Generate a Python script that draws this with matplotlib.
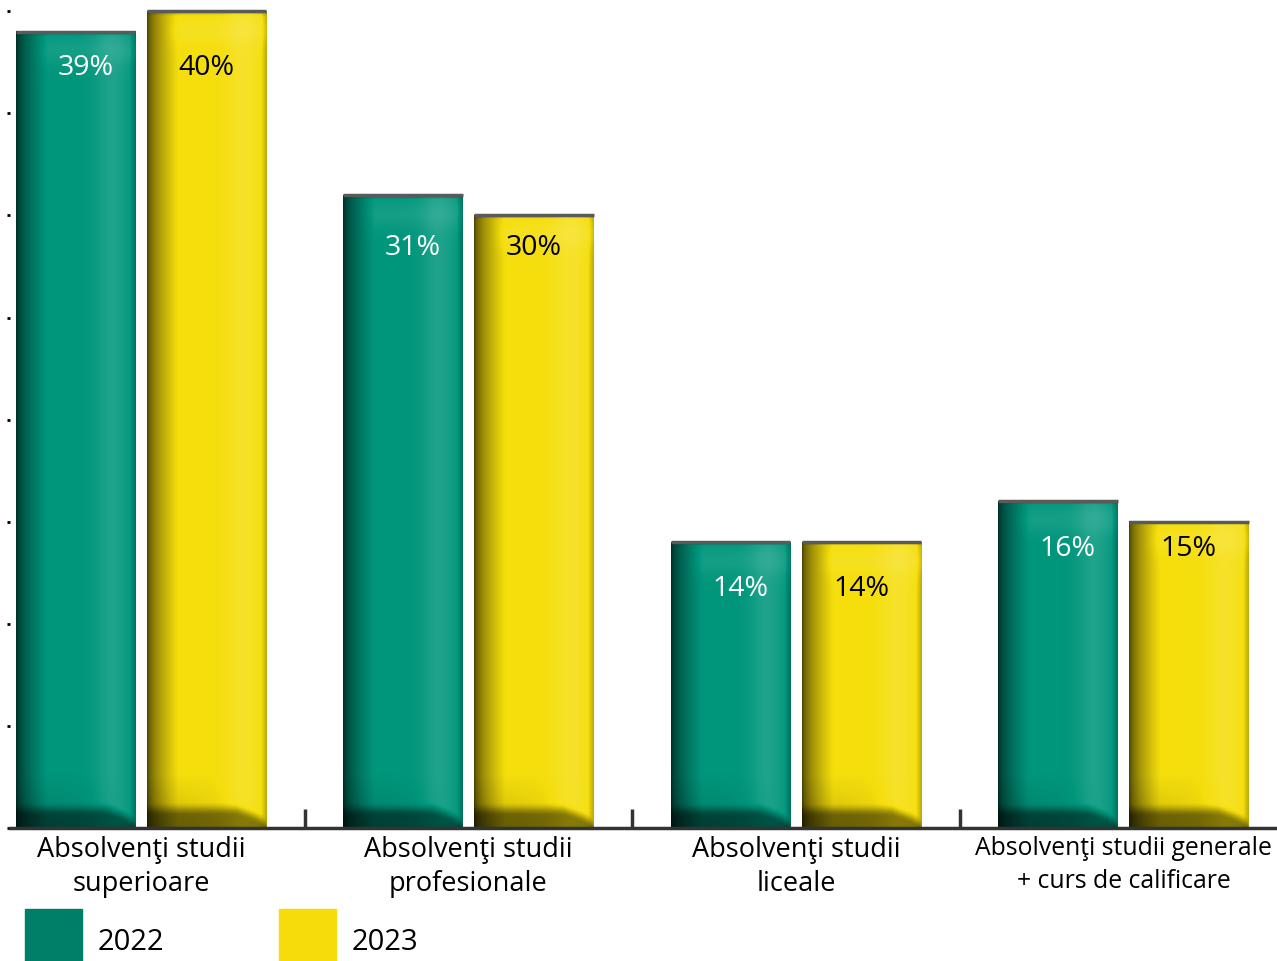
import numpy as np
import matplotlib
matplotlib.use("Agg")
from matplotlib import pyplot as plt
from matplotlib.patches import Rectangle

categories = ["Absolvenţi studii\nsuperioare", "Absolvenţi studii\nprofesionale",
              "Absolvenţi studii\nliceale", "Absolvenţi studii generale\n+ curs de calificare"]
years = ["2022", "2023"]
vals_2022 = [39, 31, 14, 16]
vals_2023 = [40, 30, 14, 15]
labels_2022 = ["39%", "31%", "14%", "16%"]
labels_2023 = ["40%", "30%", "14%", "15%"]

green = np.array([0, 150, 124]) / 255
yellow = np.array([245, 222, 12]) / 255
legend_colors = ["#007F68", "#F5DC0A"]

plt.rcParams['font.family'] = ['Open Sans', 'DejaVu Sans']

fig = plt.figure(figsize=(12.77, 9.62), dpi=100)
ax = fig.add_axes([10/1277, 133/962, 1 - 10/1277, 1 - 133/962])


def smooth(t):
    t = np.clip(t, 0, 1)
    return t * t * (3 - 2 * t)


def shade(base, height, n_x=160, n_y=400):
    u = np.linspace(0, 1, n_x)[None, :]
    h = np.linspace(height, 0, n_y)[:, None]
    # dark left edge fading in, broad soft light on the right, muted right border
    left = 0.3 + 0.7 * np.clip(u / 0.26, 0, 1) ** 0.6
    hi = 1 + 0.12 * np.exp(-((u - 0.8) / 0.14) ** 2)
    right = 1 - 0.25 * np.clip((u - 0.95) / 0.05, 0, 1)
    f = left * hi * right
    # bottom: soft dark band whose upper edge curves down on the right
    hb = 0.9 * np.clip((1 - u) / 0.25, 0, 1) ** 0.5
    band = smooth((hb + 0.35 - h) / 0.7)
    f = f * (1 - 0.5 * band)
    soft = np.clip((2.6 - h) / 2.6, 0, 1) * np.clip(1 - u / 0.9, 0, 1)
    f = f * (1 - 0.22 * soft)
    # top: thin dark rim and a light zone just below it
    f = f * (1 - 0.3 * np.clip((h - (height - 0.15)) / 0.15, 0, 1))
    f = f + 0.08 * np.exp(-((height - 0.9 - h) / 0.7) ** 2) * smooth((u - 0.1) / 0.2)
    rgb = np.where(f[..., None] <= 1,
                   base[None, None, :] * f[..., None],
                   base[None, None, :] + (1 - base[None, None, :]) * (f[..., None] - 1))
    return np.clip(rgb, 0, 1)


x = np.arange(len(categories))
w = 0.366
off = 0.2
for i in range(len(categories)):
    for v, o, base in [(vals_2022[i], -off, green), (vals_2023[i], off, yellow)]:
        x0 = x[i] + o - w / 2
        ax.imshow(shade(base, v), extent=(x0, x0 + w, 0, v), aspect='auto',
                  interpolation='bilinear', zorder=2)
        ax.hlines(v, x0, x0 + w, color="#5a5a5a", lw=2.5, zorder=3)
    top = max(vals_2022[i], vals_2023[i])
    ytxt = top - 1.95 - 0.02 * top
    ax.text(x[i] - off + 0.03, ytxt, labels_2022[i], ha='center', va='center',
            color='white', fontsize=20.5, zorder=4)
    ax.text(x[i] + off, ytxt, labels_2023[i], ha='center', va='center',
            color='black', fontsize=20.5, zorder=4)

ax.set_xlim(-0.4, 3.469)
ax.set_ylim(0, 40.6)
for s in ["top", "right", "left"]:
    ax.spines[s].set_visible(False)
ax.spines["bottom"].set_color("#333333")
ax.spines["bottom"].set_linewidth(2.5)
ax.spines["bottom"].set_zorder(5)

ax.set_yticks(np.arange(0, 41, 5))
ax.set_yticklabels([])
ax.tick_params(axis='y', length=2, width=2, color='black', direction='out')

ax.set_xticks(x)
ax.set_xticklabels(categories, fontsize=19.5, linespacing=1.28)
last = ax.get_xticklabels()[-1]
last.set_fontsize(17.8)
last.set_linespacing(1.4)
ax.set_xticks(x[:-1] + 0.5, minor=True)
ax.tick_params(axis='x', which='major', length=0, pad=5)
ax.tick_params(axis='x', which='minor', length=14, width=2.5, color='#333333', direction='in')

# legend
for j, (yr, c) in enumerate(zip(years, legend_colors)):
    lx = 25 + j * 254
    fig.patches.append(Rectangle((lx / 1277, 0), 57 / 1277, 52 / 962,
                                 transform=fig.transFigure, color=c, zorder=1))
    fig.text((lx + 73) / 1277, 19 / 962, yr, fontsize=21, va='center', ha='left')

fig.savefig("out.png", dpi=100)
